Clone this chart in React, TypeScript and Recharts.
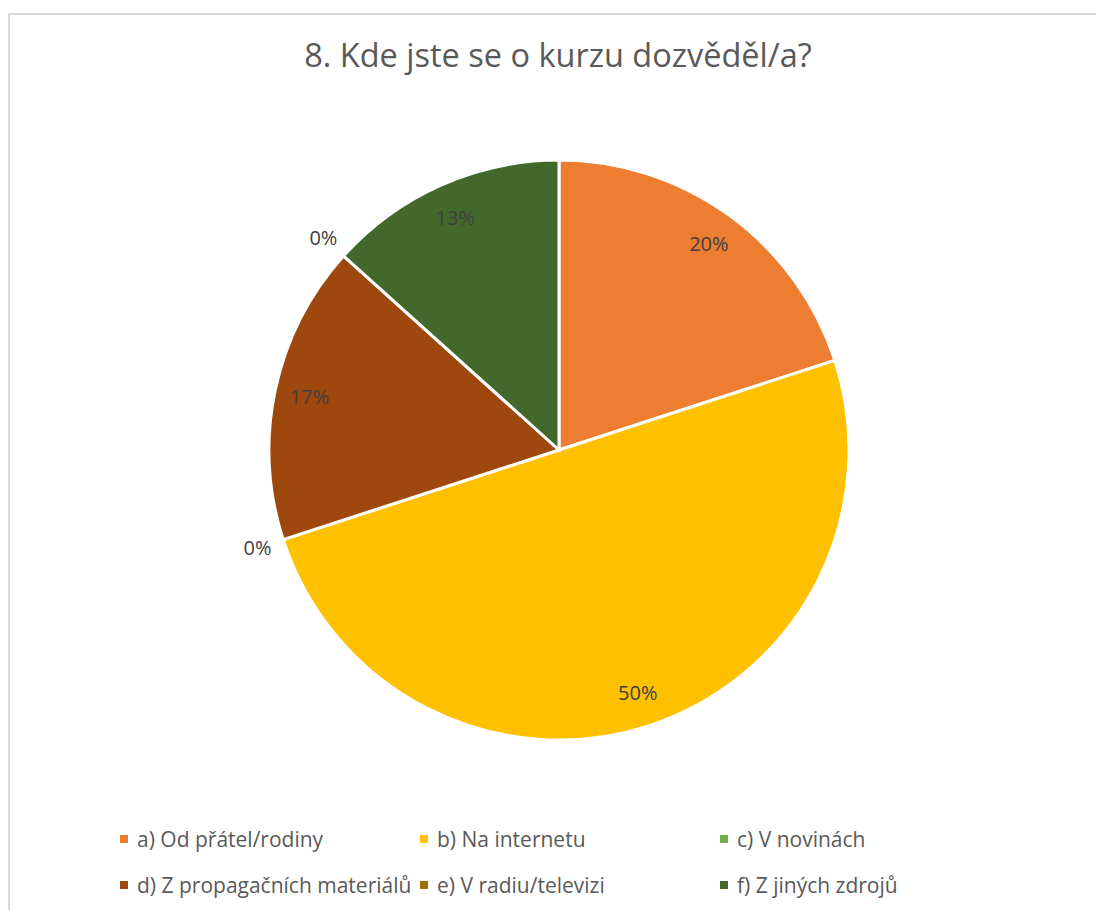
import { Cell, Legend, Pie, PieChart } from "recharts";

const categories = [
  "a) Od přátel/rodiny",
  "b) Na internetu",
  "c) V novinách",
  "d) Z propagačních materiálů",
  "e) V radiu/televizi",
  "f) Z jiných zdrojů",
];
const counts = [6, 15, 0, 5, 0, 4];
const colors = ["#ED7D31", "#FFC000", "#70AD47", "#9E480E", "#997300", "#43682B"];

const title = "8. Kde jste se o kurzu dozvěděl/a?";
const FONT = "'Open Sans', sans-serif";
const RAD = Math.PI / 180;

const data = categories.map((name, i) => ({ name, value: counts[i] }));

function renderLabel(props: any) {
  const { cx, cy, midAngle, percent, value } = props;
  const r = value === 0 ? 317 : 255;
  const x = cx + r * Math.cos(-midAngle * RAD);
  const y = cy + r * Math.sin(-midAngle * RAD);
  return (
    <text
      x={x}
      y={y}
      fill="#404040"
      fontSize={20}
      fontFamily={FONT}
      textAnchor="middle"
      dominantBaseline="central"
    >
      {`${Math.round(percent * 100)}%`}
    </text>
  );
}

function LegendGrid({ payload }: any) {
  return (
    <div
      style={{
        display: "grid",
        gridTemplateColumns: "300px 300px 300px",
        gridAutoRows: "46px",
        paddingLeft: 110,
        fontFamily: FONT,
        fontSize: 21,
        color: "#595959",
      }}
    >
      {(payload ?? []).map((p: any) => (
        <div key={p.value} style={{ display: "flex", alignItems: "center", whiteSpace: "nowrap" }}>
          <span
            style={{ width: 8, height: 8, background: p.color, marginRight: 9, display: "inline-block" }}
          />
          {p.value}
        </div>
      ))}
    </div>
  );
}

export default function App() {
  return (
    <div>
      <style>{`body{margin:0;overflow:hidden;background:#fff}`}</style>
      <div
        style={{
          position: "absolute",
          left: 8,
          top: 13,
          width: 1088,
          height: 897,
          borderLeft: "2px solid #d9d9d9",
          borderTop: "2px solid #d9d9d9",
          boxSizing: "border-box",
        }}
      >
        <div
          style={{
            position: "absolute",
            left: 0,
            top: 17,
            width: 1096,
            textAlign: "center",
            fontFamily: FONT,
            fontSize: 32.5,
            color: "#595959",
          }}
        >
          {title}
        </div>
        <PieChart width={1086} height={895} margin={{ top: 0, right: 0, bottom: 0, left: 0 }}>
          <Pie
            data={data}
            dataKey="value"
            nameKey="name"
            cx={549}
            cy={435}
            outerRadius={290}
            startAngle={90}
            endAngle={-270}
            stroke="#ffffff"
            strokeWidth={3}
            label={renderLabel}
            labelLine={false}
            isAnimationActive={false}
          >
            {data.map((d, i) => (
              <Cell key={d.name} fill={colors[i]} />
            ))}
          </Pie>
          <Legend
            content={<LegendGrid />}
            wrapperStyle={{ left: 0, top: 801, width: 1086 }}
          />
        </PieChart>
      </div>
    </div>
  );
}
